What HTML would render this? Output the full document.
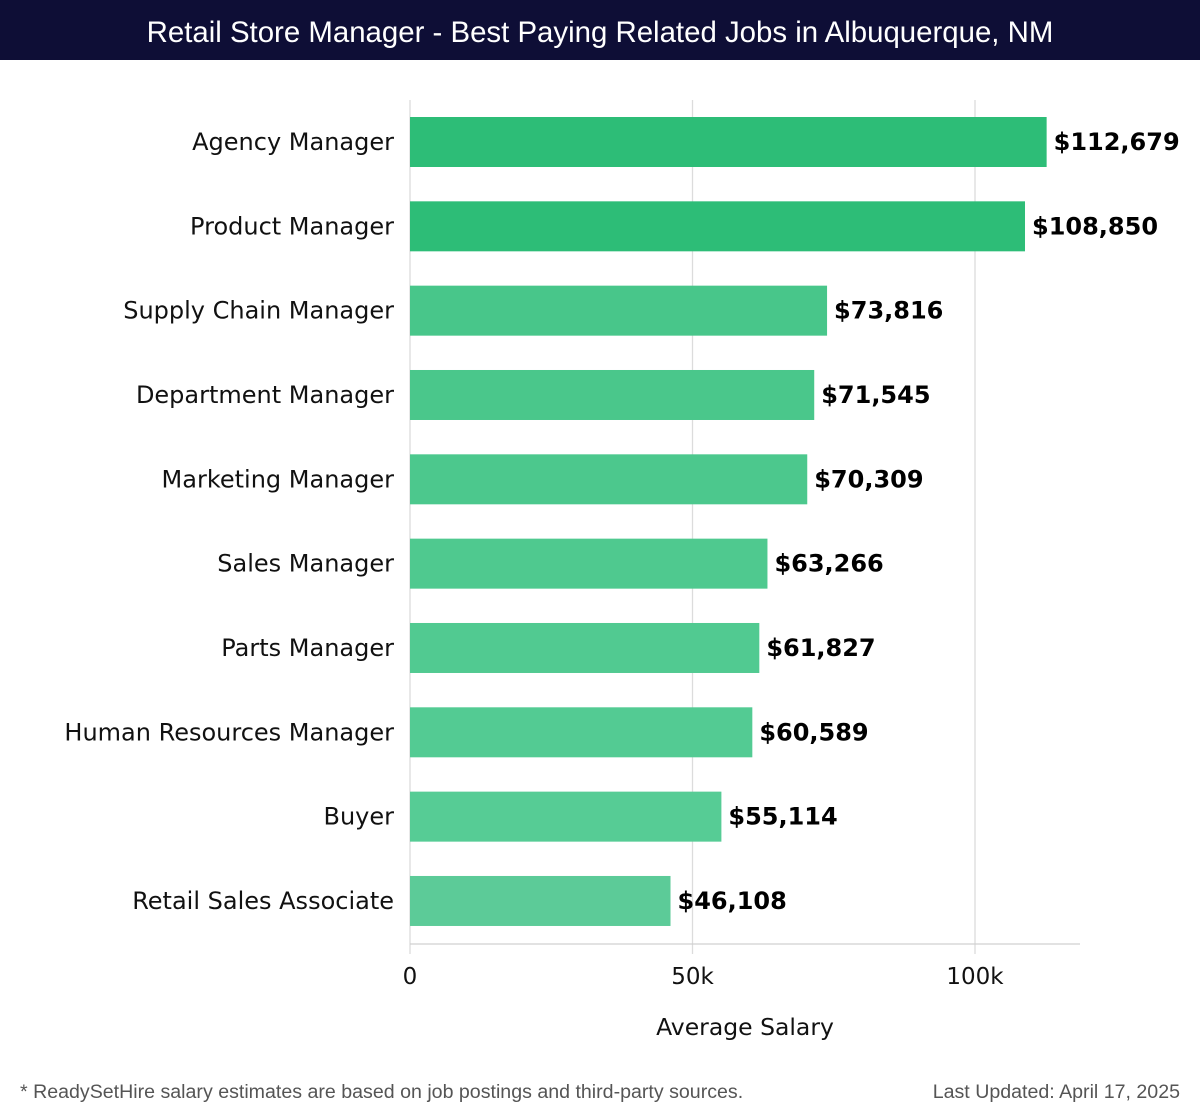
<!DOCTYPE html>
<html><head><meta charset="utf-8"><style>
body{margin:0;width:1200px;height:1120px;background:#fff;overflow:hidden;font-family:"DejaVu Sans","Liberation Sans",sans-serif;}
#title{position:absolute;left:0;top:0;width:1200px;height:60px;background:#0e0e36;color:#fff;font:29.4px "Liberation Sans",sans-serif;text-align:center;line-height:66px;}
.foot{position:absolute;top:1081px;font:19.6px "Liberation Sans",sans-serif;color:#555;}
</style></head><body>
<div id="title">Retail Store Manager - Best Paying Related Jobs in Albuquerque, NM</div>
<svg id="chart" width="1200" height="1120" style="position:absolute;left:0;top:0"></svg>
<div class="foot" style="left:20px">* ReadySetHire salary estimates are based on job postings and third-party sources.</div>
<div class="foot" style="right:20px">Last Updated: April 17, 2025</div>
<script>
const categories=["Agency Manager","Product Manager","Supply Chain Manager","Department Manager","Marketing Manager","Sales Manager","Parts Manager","Human Resources Manager","Buyer","Retail Sales Associate"];
const values=[112679,108850,73816,71545,70309,63266,61827,60589,55114,46108];
const tickValues=[0,50000,100000];
const tickLabels=["0","50k","100k"];
const colors=["#2dbd77","#2dbd77","#48c68a","#4ac78b","#4cc88d","#4fc98f","#51ca91","#53cb93","#56cc95","#5ccb98"];
const svg=document.getElementById('chart');
const NS='http://www.w3.org/2000/svg';
const x0=410,pxPer=(975-410)/100000,yTop=100,yBot=944,step=84.33,firstC=142,bh=50;
const x=v=>x0+v*pxPer;
const y=i=>firstC+i*step;
function mk(t,a){const e=document.createElementNS(NS,t);for(const k in a)e.setAttribute(k,a[k]);svg.appendChild(e);return e;}
tickValues.forEach((t,i)=>{
  const g=mk('line',{x1:x(t),x2:x(t),y1:yTop,y2:954,stroke:'#dcdcdc','stroke-width':1.3});
  
  
  const l=mk('text',{x:x(t),y:984,'text-anchor':'middle','font-size':23,fill:'#111'});
  l.textContent=tickLabels[i];
  
  
});
const ax=mk('line',{x1:x0,x2:1080,y1:yBot,y2:yBot,stroke:'#d0d0d0','stroke-width':1.3});


const at=mk('text',{x:745,y:1035,'text-anchor':'middle','font-size':23.5,fill:'#111'});
at.textContent='Average Salary';


categories.forEach((c,i)=>{
  const r=mk('rect',{x:x0,y:y(i)-bh/2,width:x(values[i])-x0,height:bh,fill:colors[i]});
  
  
  const l=mk('text',{x:394,y:y(i)+8,'text-anchor':'end','font-size':24,fill:'#111'});
  l.textContent=c;
  
  
  const v=mk('text',{x:x(values[i])+7,y:y(i)+8,'font-size':24,'font-weight':'bold',fill:'#000'});
  v.textContent='$'+values[i].toLocaleString('en-US');
  
  
});
</script>
</body></html>
